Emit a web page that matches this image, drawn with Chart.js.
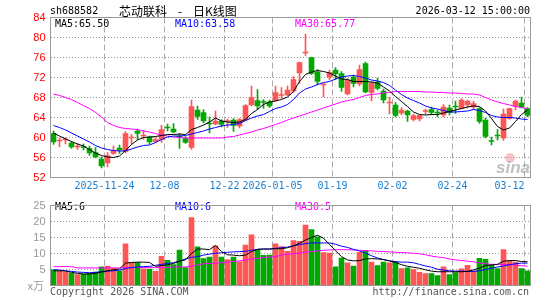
<!DOCTYPE html>
<html>
<head>
<meta charset="utf-8">
<script src="https://cdn.jsdelivr.net/npm/chart.js@4.4.1/dist/chart.umd.min.js"></script>
<style>
  body { margin: 0; background: #fff; width: 545px; height: 300px; overflow: hidden; position: relative; }
  #k { position: absolute; left: 0; top: 0; }
  #v { position: absolute; left: 0; top: 195px; }
</style>
</head>
<body>
<canvas id="k" width="545" height="195"></canvas>
<canvas id="v" width="545" height="105"></canvas>
<script>
// trading days shown on the chart
const dates = [
  '2025-11-11','2025-11-12','2025-11-13','2025-11-14','2025-11-17','2025-11-18','2025-11-19','2025-11-20','2025-11-21','2025-11-24',
  '2025-11-25','2025-11-26','2025-11-27','2025-11-28','2025-12-01','2025-12-02','2025-12-03','2025-12-04','2025-12-05','2025-12-08',
  '2025-12-09','2025-12-10','2025-12-11','2025-12-12','2025-12-15','2025-12-16','2025-12-17','2025-12-18','2025-12-19','2025-12-22',
  '2025-12-23','2025-12-24','2025-12-25','2025-12-26','2025-12-29','2025-12-30','2025-12-31','2026-01-05','2026-01-06','2026-01-07',
  '2026-01-08','2026-01-09','2026-01-12','2026-01-13','2026-01-14','2026-01-15','2026-01-16','2026-01-19','2026-01-20','2026-01-21',
  '2026-01-22','2026-01-23','2026-01-26','2026-01-27','2026-01-28','2026-01-29','2026-01-30','2026-02-02','2026-02-03','2026-02-04',
  '2026-02-05','2026-02-06','2026-02-09','2026-02-10','2026-02-11','2026-02-12','2026-02-13','2026-02-24','2026-02-25','2026-02-26',
  '2026-02-27','2026-03-02','2026-03-03','2026-03-04','2026-03-05','2026-03-06','2026-03-09','2026-03-10','2026-03-11','2026-03-12'
];
const markDates = ['2025-11-24','2025-12-08','2025-12-22','2026-01-05','2026-01-19','2026-02-02','2026-02-24','2026-03-12'];
const markText  = ['2025-11-24','12-08','12-22','2026-01-05','01-19','02-02','02-24','03-12'];

const opens = [
  60.8,59.3,59.5,58.9,58.1,58.2,57.8,57.0,55.7,54.9, 56.8,57.9,57.2,59.9,61.3,60.3,60.1,59.2,59.6,62.1,
  61.7,60.3,59.8,58.0,65.5,65.0,62.9,62.7,63.3,63.2, 63.5,62.3,63.5,66.5,67.4,67.2,67.1,67.4,68.4,68.5,
  69.3,72.9,76.9,76.0,73.1,70.5,72.1,73.5,72.8,68.7, 72.1,70.7,74.8,69.0,71.1,69.3,66.9,66.5,64.9,65.3,
  63.6,63.7,65.2,65.6,65.1,64.5,65.9,66.3,65.8,66.5, 66.1,65.8,63.5,59.4,60.5,59.9,63.8,66.3,66.9,65.8
];
const highs = [
  61.3,59.9,60.0,59.2,58.8,58.7,58.3,58.0,56.1,57.0, 58.3,58.5,61.2,60.6,61.7,61.4,60.3,60.0,62.5,62.7,
  62.8,60.8,60.2,67.5,66.3,65.6,64.1,65.3,63.6,63.7, 63.8,63.8,66.6,70.3,69.6,67.6,67.5,70.3,70.0,70.3,
  72.2,75.1,80.7,76.1,73.6,70.9,73.5,74.0,73.2,71.8, 72.5,74.5,75.1,71.2,71.9,69.7,68.1,67.0,66.0,65.5,
  64.7,64.6,65.7,66.1,65.5,66.6,66.5,67.3,67.8,67.5, 67.3,66.0,63.9,60.1,61.6,65.7,65.9,67.5,68.1,66.0
];
const lows = [
  58.6,58.1,58.7,57.8,57.6,57.5,56.4,55.9,53.9,54.1, 56.6,56.8,56.9,58.7,59.6,59.6,58.7,58.9,59.0,61.3,
  60.9,57.8,58.8,57.6,63.6,62.9,60.9,62.5,62.1,62.0, 61.2,61.9,63.3,66.3,65.6,65.8,66.0,67.2,67.8,68.3,
  69.0,70.8,76.4,72.6,70.5,68.1,71.5,71.6,69.2,68.5, 70.1,70.3,68.9,67.3,69.5,66.9,64.7,64.1,64.5,63.2,
  63.3,63.3,64.6,64.5,64.1,64.1,64.5,64.8,65.7,65.9, 65.6,62.8,59.9,58.5,59.5,59.4,63.6,65.5,65.9,64.1
];
const closes = [
  59.1,59.5,59.7,58.1,58.3,58.0,56.9,56.1,54.3,56.4, 57.4,57.5,60.8,60.1,60.8,60.5,59.1,59.6,61.6,61.9,
  61.1,60.1,59.0,66.2,64.2,63.3,62.7,63.3,62.6,63.3, 62.4,63.6,66.4,68.0,66.3,67.0,66.3,69.0,68.6,69.5,
  71.6,75.0,77.1,72.8,71.2,70.7,73.0,72.7,70.0,71.5, 70.8,73.6,69.1,70.9,69.8,67.5,67.1,64.4,65.5,64.5,
  64.4,64.4,65.4,65.0,64.9,66.1,65.0,66.1,67.5,67.3, 66.8,63.2,60.2,59.2,60.3,64.7,65.8,67.3,66.1,64.4
];
const ma5 = [
  60.9,60.3,59.7,59.2,58.7,58.3,57.6,56.9,56.4,56.1, 56.0,56.3,57.4,58.6,59.5,60.0,60.1,60.2,60.4,60.6,
  60.6,60.7,60.6,61.6,62.0,62.5,63.1,63.9,63.3,63.1, 63.0,63.1,63.6,64.8,65.6,66.6,67.1,67.3,67.6,68.1,
  69.2,71.2,72.6,73.1,73.4,73.2,72.9,72.3,71.7,71.6, 71.2,71.2,71.2,71.1,70.9,70.1,69.3,68.2,67.2,66.2,
  65.1,64.6,64.5,64.6,64.6,64.9,65.2,65.5,65.8,66.1, 66.3,66.2,65.3,63.8,62.2,61.5,61.9,63.2,64.6,65.5
];
const ma10 = [
  62.4,62.0,61.5,60.9,60.3,59.7,59.1,58.4,57.9,57.6, 57.4,57.3,57.3,57.7,58.1,58.4,58.5,59.0,59.6,60.1,
  60.3,60.3,60.4,60.7,61.0,61.3,61.7,62.0,62.3,62.5, 62.6,62.8,63.4,63.9,64.3,64.6,65.2,65.8,66.1,66.6,
  67.6,68.9,69.7,70.1,70.6,71.0,71.2,71.7,72.1,72.3, 72.4,72.2,71.9,71.5,71.3,71.0,70.4,69.5,68.6,67.9,
  67.4,66.9,66.3,65.9,65.7,65.4,65.1,65.1,65.2,65.3, 65.6,65.4,65.0,64.4,64.1,64.0,64.0,63.9,63.7,63.6
];
const ma30 = [
  68.7,68.4,68.0,67.6,67.0,66.4,65.8,65.0,64.1,63.0, 62.4,62.0,61.8,61.7,61.6,61.3,61.1,60.8,60.5,60.3,
  60.1,60.0,59.9,59.9,59.9,59.9,59.9,59.9,59.9,60.1, 60.2,60.5,60.8,61.1,61.5,61.8,62.2,62.6,63.0,63.5,
  63.9,64.3,64.7,65.1,65.5,65.9,66.3,66.7,67.1,67.4, 67.6,68.0,68.4,68.6,68.7,68.9,69.0,69.2,69.2,69.2,
  69.2,69.2,69.1,69.1,69.0,69.0,68.9,68.9,68.8,68.7, 68.7,68.5,68.0,67.5,67.1,66.8,66.5,66.2,66.0,65.8
];
// volume, in 万
const vols = [
  4.9,4.4,4.1,3.8,3.4,3.6,3.8,4.2,5.8,6.1, 5.4,4.6,13.0,7.2,7.2,5.2,5.1,4.4,9.1,7.9,
  6.5,11.1,5.6,21.2,12.1,8.4,8.9,12.4,8.9,8.1, 8.9,7.4,12.6,15.8,11.1,9.4,9.5,13.0,12.2,10.7,
  14.0,13.8,18.9,17.5,15.2,10.3,10.1,5.8,8.6,7.1, 6.1,10.4,10.9,7.3,6.2,7.3,7.1,7.3,5.3,5.5,
  5.0,4.1,3.7,3.7,3.1,5.8,3.4,4.0,5.2,6.3, 4.6,8.5,8.2,6.5,5.3,11.2,7.7,7.3,5.3,4.6
];
const vma5 = [
  4.6,4.6,4.5,4.1,3.8,3.6,3.6,3.8,4.2,4.6, 4.9,5.2,7.0,7.2,7.3,7.3,7.2,6.0,6.2,6.5,
  6.9,7.6,8.0,10.0,11.4,11.4,11.2,12.5,10.6,9.6, 9.5,9.3,9.5,10.6,11.3,11.4,11.4,11.5,11.5,11.8,
  12.4,13.2,14.2,15.0,15.7,14.8,12.8,10.9,9.0,8.0, 7.7,7.8,8.3,8.4,8.3,8.1,7.7,7.2,6.5,6.0,
  5.7,5.4,4.9,4.5,4.3,4.3,4.3,4.3,4.3,4.4, 4.9,5.4,6.3,6.4,6.6,7.6,7.8,7.8,7.5,7.4
];
const vma10 = [
  4.9,4.8,4.6,4.4,4.2,4.1,4.0,4.1,4.3,4.5, 4.6,4.8,5.3,5.6,5.8,5.9,6.0,6.3,6.6,6.9,
  7.1,7.6,8.3,8.8,9.0,9.5,9.8,10.1,10.2,10.4, 10.5,10.6,10.7,11.0,11.3,11.4,11.4,11.6,11.8,12.0,
  12.4,12.8,13.1,13.3,13.3,13.3,13.3,12.9,12.3,11.9, 11.3,10.8,10.1,9.3,8.6,8.1,7.7,7.5,7.3,7.3,
  7.1,6.6,6.1,5.7,5.1,4.8,4.6,4.5,4.5,4.4, 4.4,4.6,5.0,5.4,5.8,6.1,6.5,6.8,7.0,7.0
];
const vma30 = [
  5.9,5.9,5.9,5.9,5.5,5.5,5.5,5.5,5.5,5.5, 5.5,5.5,5.6,5.6,5.6,5.6,5.6,5.6,5.6,5.6,
  5.8,5.8,5.8,6.1,6.4,6.8,6.9,7.0,7.1,7.3, 7.5,7.7,8.0,8.3,8.5,8.7,8.9,9.0,9.5,9.8,
  9.9,10.1,10.4,10.6,10.8,11.0,11.1,11.2,11.2,11.2, 11.1,11.0,10.9,10.8,10.7,10.6,10.5,10.4,10.3,10.2,
  10.1,9.9,9.6,9.2,8.9,8.7,8.3,8.0,7.8,7.6, 7.4,7.0,6.8,6.6,6.6,6.6,6.5,6.4,6.2,6.0
];

const RED = '#ff5555';
const GREEN = '#00a800';
const MONO = '10px "DejaVu Sans Mono"';
const markIdx = markDates.map(d => dates.indexOf(d));
const colors = closes.map((c, i) => c >= opens[i] ? RED : GREEN);

Chart.defaults.animation = false;
Chart.defaults.events = [];
Chart.defaults.plugins.legend.display = false;
Chart.defaults.plugins.tooltip.enabled = false;

function maLine(data, color) {
  return { type: 'line', data, borderColor: color, borderWidth: 1, pointRadius: 0, tension: 0, order: 0 };
}

function xAxis(h) {
  return {
    type: 'category',
    offset: true,
    afterFit: s => { s.height = h; },
    ticks: { display: false, autoSkip: false },
    grid: { offset: true, drawTicks: false, color: c => markIdx.includes(c.index) ? '#aaa' : 'transparent' },
    border: { display: false, dash: [6, 3] }
  };
}

function edgeGrid(lo, hi) {
  return c => (c.tick && (c.tick.value === lo || c.tick.value === hi)) ? 'transparent' : '#999';
}

function legend(ctx, y, items) {
  ctx.font = MONO;
  ctx.textAlign = 'left';
  ctx.textBaseline = 'middle';
  items.forEach(([t, col, x]) => { ctx.fillStyle = col; ctx.fillText(t, x, y); });
}

function frame(ctx, a) {
  ctx.strokeStyle = '#999';
  ctx.lineWidth = 1;
  ctx.strokeRect(a.left, a.top, a.right - a.left, a.bottom - a.top);
}

const kText = {
  id: 'kText',
  afterDraw(chart) {
    const { ctx, chartArea: a, scales: { x } } = chart;
    ctx.save();
    ctx.textBaseline = 'middle';
    ctx.fillStyle = '#000';
    ctx.font = MONO;
    ctx.textAlign = 'left';
    ctx.fillText('sh688582', 50, 11);
    ctx.textAlign = 'right';
    ctx.fillText('2026-03-12 15:00:00', 530, 11);
    ctx.textAlign = 'left';
    ctx.font = '12px "Noto Sans CJK SC"';
    ctx.fillText('芯动联科', 119, 11);
    ctx.fillText('-', 178, 11);
    ctx.fillText('日K线图', 193, 11);

    legend(ctx, 24.5, [['MA5:65.50', '#000', 55], ['MA10:63.58', '#00f', 175], ['MA30:65.77', '#f0f', 295]]);

    // date labels sit on the dashed lines
    const half = (x.getPixelForValue(1) - x.getPixelForValue(0)) / 2;
    ctx.fillStyle = '#1a7fd2';
    markIdx.forEach((idx, k) => {
      const px = x.getPixelForValue(idx) - half;
      ctx.textAlign = k === markIdx.length - 1 ? 'right' : 'center';
      ctx.fillText(markText[k], px, 186);
    });

    // sina watermark
    ctx.fillStyle = 'rgba(240,150,150,0.55)';
    ctx.beginPath();
    ctx.arc(510, 158, 5, 0, Math.PI * 2);
    ctx.fill();
    ctx.fillStyle = 'rgba(150,150,150,0.6)';
    ctx.font = 'italic bold 17px "Liberation Sans"';
    ctx.textAlign = 'left';
    ctx.textBaseline = 'alphabetic';
    ctx.fillText('sina', 496, 173);

    frame(ctx, a);
    ctx.restore();
  }
};

const vText = {
  id: 'vText',
  afterDraw(chart) {
    const { ctx, chartArea: a } = chart;
    ctx.save();
    legend(ctx, 12, [['MA5:6', '#000', 55], ['MA10:6', '#00f', 175], ['MA30:5', '#f0f', 295]]);
    ctx.fillStyle = '#999';
    ctx.font = '11px "Noto Sans CJK SC"';
    ctx.textAlign = 'right';
    ctx.fillText('x万', 44, 91);
    ctx.fillStyle = '#555';
    ctx.font = MONO;
    ctx.textAlign = 'left';
    ctx.fillText('Copyright 2026 SINA.COM', 50, 97.5);
    ctx.textAlign = 'right';
    ctx.fillText('http://finance.sina.com.cn', 529, 97.5);
    frame(ctx, a);
    ctx.restore();
  }
};

new Chart(document.getElementById('k'), {
  type: 'bar',
  data: {
    labels: dates,
    datasets: [
      maLine(ma5, '#000'),
      maLine(ma10, '#00f'),
      maLine(ma30, '#f0f'),
      { data: opens.map((o, i) => [o, closes[i]]), backgroundColor: colors, barThickness: 5, minBarLength: 1, grouped: false, order: 1 },
      { data: lows.map((l, i) => [l, highs[i]]), backgroundColor: colors, barThickness: 1, grouped: false, order: 2 }
    ]
  },
  options: {
    responsive: false,
    layout: { padding: { left: 0.5, right: 14.5, top: 17.5, bottom: 0 } },
    scales: {
      x: xAxis(17.5),
      y: {
        min: 52, max: 84,
        afterFit: s => { s.width = 50; },
        ticks: { stepSize: 4, color: '#f00', padding: 5, font: { family: 'Liberation Sans', size: 11, lineHeight: 1 } },
        grid: { drawTicks: false, color: edgeGrid(52, 84) },
        border: { display: false, dash: [1, 2] }
      }
    }
  },
  plugins: [kText]
});

new Chart(document.getElementById('v'), {
  type: 'bar',
  data: {
    labels: dates,
    datasets: [
      maLine(vma5, '#000'),
      maLine(vma10, '#00f'),
      maLine(vma30, '#f0f'),
      { data: vols, backgroundColor: colors, barThickness: 5, grouped: false, order: 1 }
    ]
  },
  options: {
    responsive: false,
    layout: { padding: { left: 0.5, right: 14.5, top: 6.5, bottom: 0 } },
    scales: {
      x: xAxis(14.5),
      y: {
        min: 0, max: 25,
        afterFit: s => { s.width = 50; },
        ticks: { stepSize: 5, color: '#999', padding: 5, font: { family: 'Liberation Sans', size: 11, lineHeight: 1 },
                 callback: v => v === 0 ? '' : v },
        grid: { drawTicks: false, color: edgeGrid(0, 25) },
        border: { display: false, dash: [1, 2] }
      }
    }
  },
  plugins: [vText]
});
</script>
</body>
</html>
